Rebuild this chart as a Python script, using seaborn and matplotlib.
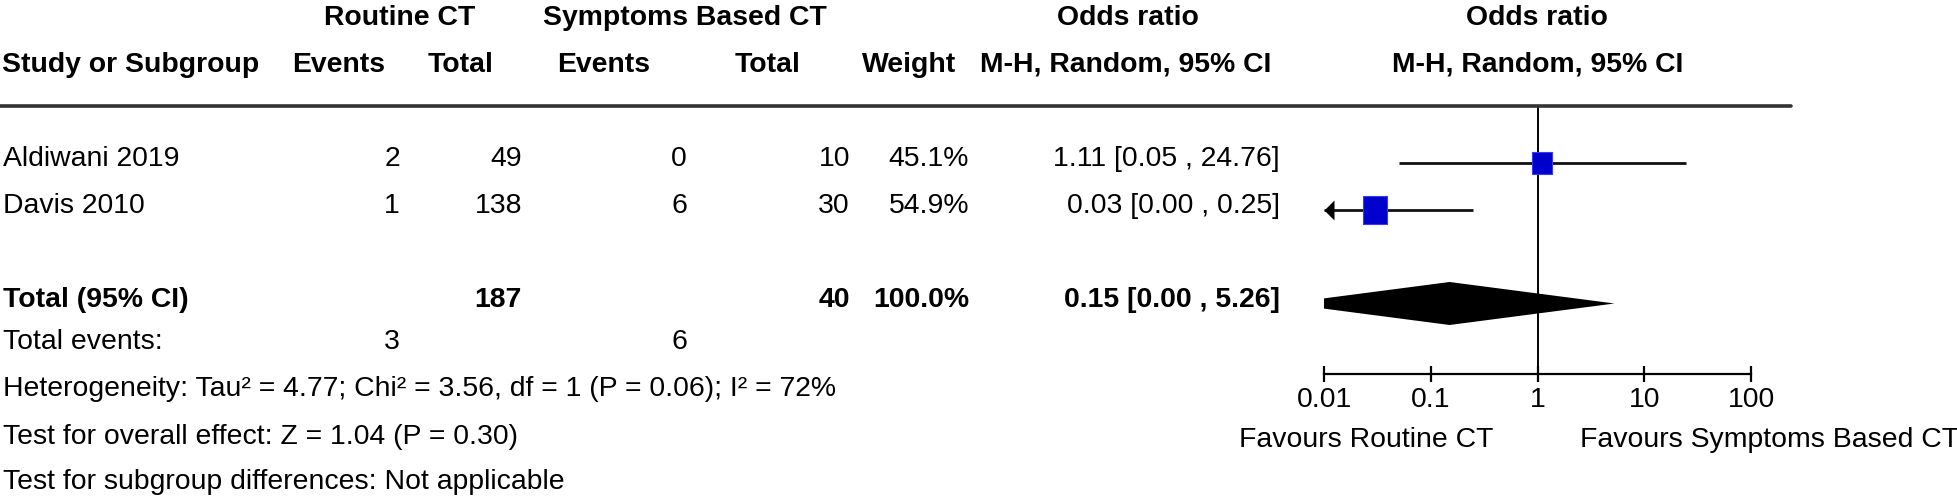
import numpy as np
import pandas as pd
import matplotlib
matplotlib.use('Agg')
import matplotlib.pyplot as plt
import matplotlib.transforms as mtransforms
from matplotlib.lines import Line2D
from matplotlib.path import Path
from matplotlib.ticker import NullLocator
import seaborn as sns

# --- values ---
studies         = ['Aldiwani 2019', 'Davis 2010']
events_routine  = [2, 1]
total_routine   = [49, 138]
events_symptoms = [0, 6]
total_symptoms  = [10, 30]
weights         = [45.1, 54.9]
odds_ratio      = [1.11, 0.03]
ci_low          = [0.05, 0.0036]   # printed as 0.00 when below 0.005
ci_high         = [24.76, 0.25]

pooled_total_routine  = 187
pooled_total_symptoms = 40
pooled_weight = 100.0
pooled_or     = 0.15
pooled_low    = 0.0043
pooled_high   = 5.26
total_events  = [3, 6]

footnotes = [
    'Heterogeneity: Tau² = 4.77; Chi² = 3.56, df = 1 (P = 0.06); I² = 72%',
    'Test for overall effect: Z = 1.04 (P = 0.30)',
    'Test for subgroup differences: Not applicable',
]
x_ticks       = [0.01, 0.1, 1, 10, 100]
x_tick_labels = ['0.01', '0.1', '1', '10', '100']
favours       = ['Favours Routine CT', 'Favours Symptoms Based CT']

# --- layout (pixels, y measured from the top) ---
W, H = 1958, 502
FS = 20.4
study_y   = [164, 211]
pooled_y  = 304.5
TXT_DY    = 2.5
foot_y    = [396, 444, 489]
events_y  = 349
col_right = [400, 522, 687, 850, 969]   # events, total, events, total, weight
ci_right  = 1280

sns.set_theme(style='white')
plt.rcParams['font.family'] = ['Liberation Sans', 'DejaVu Sans']

fig = plt.figure(figsize=(W / 100, H / 100), dpi=100)
px = mtransforms.Affine2D().scale(1 / W, -1 / H).translate(0, 1) + fig.transFigure


def put(x, y, s, ha='left', bold=False):
    fig.text(x, y, s, transform=px, ha=ha, va='baseline', fontsize=FS,
             fontweight='bold' if bold else 'normal', color='black')


# header
for s, x in [('Routine CT', 400), ('Symptoms Based CT', 685),
             ('Odds ratio', 1128), ('Odds ratio', 1537)]:
    put(x, 25, s, ha='center', bold=True)
put(2, 72, 'Study or Subgroup', bold=True)
for s, x in [('Events', 339), ('Total', 461), ('Events', 604), ('Total', 768),
             ('Weight', 909), ('M-H, Random, 95% CI', 1126), ('M-H, Random, 95% CI', 1538)]:
    put(x, 72, s, ha='center', bold=True)
fig.add_artist(Line2D([0, 1791], [107, 107], transform=px, color='#333333', lw=2.6))

# study rows
for i, name in enumerate(studies):
    ty = study_y[i] + TXT_DY
    put(3, ty, name)
    vals = [events_routine[i], total_routine[i], events_symptoms[i], total_symptoms[i]]
    for v, xr in zip(vals, col_right[:4]):
        put(xr, ty, str(v), ha='right')
    put(col_right[4], ty, f'{weights[i]:.1f}%', ha='right')
    put(ci_right, ty, f'{odds_ratio[i]:.2f} [{ci_low[i]:.2f} , {ci_high[i]:.2f}]', ha='right')

# pooled row
ty = pooled_y + TXT_DY
put(3, ty, 'Total (95% CI)', bold=True)
put(col_right[1], ty, str(pooled_total_routine), ha='right', bold=True)
put(col_right[3], ty, str(pooled_total_symptoms), ha='right', bold=True)
put(col_right[4], ty, f'{pooled_weight:.1f}%', ha='right', bold=True)
put(ci_right, ty, f'{pooled_or:.2f} [{pooled_low:.2f} , {pooled_high:.2f}]', ha='right', bold=True)

put(3, events_y, 'Total events:')
put(col_right[0], events_y, str(total_events[0]), ha='right')
put(col_right[2], events_y, str(total_events[1]), ha='right')
for s, y in zip(footnotes, foot_y):
    put(3, y, s)

# --- forest panel ---
ax = fig.add_axes([1324 / W, 1 - 375 / H, (1751 - 1324) / W, (375 - 107) / H])
ax.set_xscale('log')
xmin, xmax = x_ticks[0], x_ticks[-1]
ax.set_xlim(xmin, xmax)
ax.set_ylim(375, 107)
ax.patch.set_visible(False)

ax.axvline(1, color='black', lw=1.4, zorder=1)

for i in range(len(studies)):
    lo = max(ci_low[i], xmin)
    ax.hlines(study_y[i], lo, ci_high[i], color='#111111', lw=2, zorder=2)
    if ci_low[i] < xmin:
        arrow = Path([(0, 0), (0.5, 0.5), (0.5, -0.5), (0, 0)])
        ax.scatter([xmin], [study_y[i]], marker=arrow, s=(20 * 0.72) ** 2,
                   color='black', linewidths=0, clip_on=False, zorder=3)

df = pd.DataFrame({'or': odds_ratio, 'y': study_y, 'w': weights})
rect = Path([(-0.45, -0.5), (0.45, -0.5), (0.45, 0.5), (-0.45, 0.5), (-0.45, -0.5)])
sns.scatterplot(data=df, x='or', y='y', marker=rect,
                s=(0.5 * df['w'] * 0.72) ** 2, color='#0000CC',
                edgecolor='#3a3aff', linewidth=0.8, legend=False, ax=ax, zorder=4)

# pooled diamond, truncated at the axis minimum
h = 21.5
lg = np.log10
t = 0.0
if pooled_low < xmin:
    t = (lg(xmin) - lg(pooled_low)) / (lg(pooled_or) - lg(pooled_low))
left = max(pooled_low, xmin)
ax.fill([left, pooled_or, pooled_high, pooled_or, left],
        [pooled_y - h * t, pooled_y - h, pooled_y, pooled_y + h, pooled_y + h * t],
        color='black', lw=0, zorder=4)

for side in ['left', 'right', 'top']:
    ax.spines[side].set_visible(False)
ax.spines['bottom'].set_color('black')
ax.spines['bottom'].set_linewidth(1.6)
ax.set_xticks(x_ticks)
ax.set_xticklabels(x_tick_labels)
ax.xaxis.set_minor_locator(NullLocator())
ax.set_yticks([])
ax.set_xlabel('')
ax.set_ylabel('')
ax.tick_params(axis='x', which='major', direction='inout', length=11, width=1.6,
               pad=3, labelsize=FS, colors='black', bottom=True)

put(1493, 447, favours[0], ha='right')
put(1580, 447, favours[1], ha='left')

fig.savefig('out.png', dpi=100, facecolor='white')
